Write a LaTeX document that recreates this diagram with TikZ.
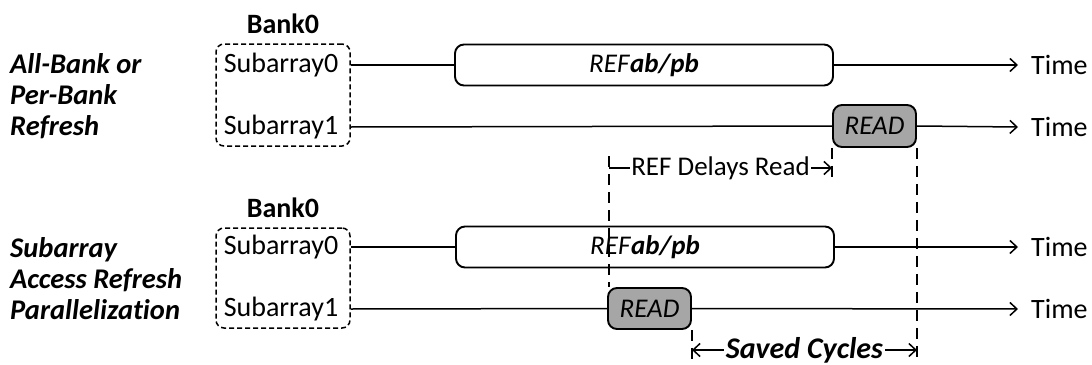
\documentclass[tikz,border=0pt]{standalone}
\usepackage{fontspec}
\setmainfont{Carlito}[Ligatures=NoCommon]
\usetikzlibrary{arrows.meta}
\newcommand{\fs}[1]{\fontsize{#1}{#1}\selectfont}
\begin{document}
\begin{tikzpicture}[x=1pt,y=-1pt,
  txt/.style={inner sep=0pt,font=\fs{28}},
  banklabel/.style={inner sep=0pt,font=\fs{28}\bfseries},
  scheme/.style={inner sep=0pt,anchor=west,align=left,
    font=\fontsize{28.5}{31}\selectfont\bfseries\itshape},
  bankbox/.style={draw,line width=1.5pt,dash pattern=on 5pt off 3pt,
    rounded corners=8pt,minimum width=134pt,minimum height=102pt},
  refbox/.style={draw,line width=1.9pt,rounded corners=9pt,fill=white,
    minimum width=378pt,minimum height=41pt,inner sep=0pt,font=\fs{27}},
  readbox/.style={draw,line width=1.9pt,rounded corners=9pt,fill=gray!70,
    minimum width=83pt,minimum height=42pt,inner sep=0pt,font=\fs{27}\itshape},
  wire/.style={line width=1.5pt},
  timeline/.style={wire,-{Straight Barb[length=7pt,width=13pt,line width=1.5pt]}},
  span/.style={wire,{Straight Barb[length=7pt,width=13pt,line width=1.5pt]}-{Straight Barb[length=7pt,width=13pt,line width=1.5pt]}},
  guide/.style={line width=1.6pt,dash pattern=on 11pt off 7pt},
]
\useasboundingbox (0,0) rectangle (1092,364);

% ---- upper scheme: all-bank / per-bank refresh ----
\node[scheme] (schA) at (10,96) {All-Bank or\\Per-Bank\\Refresh};
\node[banklabel] (bankA) at (283,24) {Bank0};
\node[bankbox] (grpA) at (283,95) {};
\node[txt] (sA0) at (281,65) {Subarray0};
\node[txt] (sA1) at (281,127) {Subarray1};
\node[refbox] (refA) at (644,65) {\textit{REF}\textbf{\textit{ab/pb}}};
\node[readbox] (readA) at (874.5,126) {READ};
\coordinate (endA0) at (1018,65);
\coordinate (endA1) at (1018,127);
\node[txt,anchor=west] (timeA0) at (1031,65) {Time};
\node[txt,anchor=west] (timeA1) at (1031,127) {Time};
\draw[wire] (grpA.east |- sA0) -- (refA.west);
\draw[timeline] (refA.east) -- (endA0);
\draw[wire] (grpA.east |- sA1) -- (readA.west);
\draw[timeline] (readA.east) -- (endA1);

% ---- lower scheme: subarray access refresh parallelization ----
\node[scheme] (schB) at (10,279) {Subarray\\Access Refresh\\Parallelization};
\node[banklabel] (bankB) at (283,208) {Bank0};
\node[bankbox,minimum height=100pt] (grpB) at (283,278) {};
\node[txt] (sB0) at (281,247) {Subarray0};
\node[txt] (sB1) at (281,309) {Subarray1};
\node[refbox] (refB) at (645,247) {\textit{REF}\textbf{\textit{ab/pb}}};
\node[readbox,minimum height=41pt] (readB) at (649.5,308.5) {READ};
\coordinate (endB0) at (1018,247);
\coordinate (endB1) at (1018,309);
\node[txt,anchor=west] (timeB0) at (1031,247) {Time};
\node[txt,anchor=west] (timeB1) at (1031,309) {Time};
\draw[wire] (grpB.east |- sB0) -- (refB.west);
\draw[timeline] (refB.east) -- (endB0);
\draw[wire] (grpB.east |- sB1) -- (readB.west);
\draw[timeline] (readB.east) -- (endB1);

% ---- timing guides ----
\coordinate (delayL) at (609,156);
\coordinate (delayR) at (readA.south west |- 0,177);
\coordinate (saveL) at (readB.south east |- 0,362);
\coordinate (saveR) at (readA.south east |- 0,362);
\draw[guide] (delayL) -- (delayL |- readB.north);
\draw[guide] (readA.south west) -- (delayR);
\draw[guide] (readA.south east) -- (saveR);
\draw[guide] (readB.south east) -- (saveL);

\draw[timeline] (delayL |- 0,168) -- (delayR |- 0,168)
  node[midway,fill=white,inner sep=1pt,font=\fs{27}] (delay) {REF Delays Read};
\draw[span] (saveL |- 0,350) -- (saveR |- 0,350)
  node[midway,fill=white,inner xsep=2pt,inner ysep=0pt,font=\fs{30}\bfseries\itshape] (saved) {Saved Cycles};
\end{tikzpicture}
\end{document}
